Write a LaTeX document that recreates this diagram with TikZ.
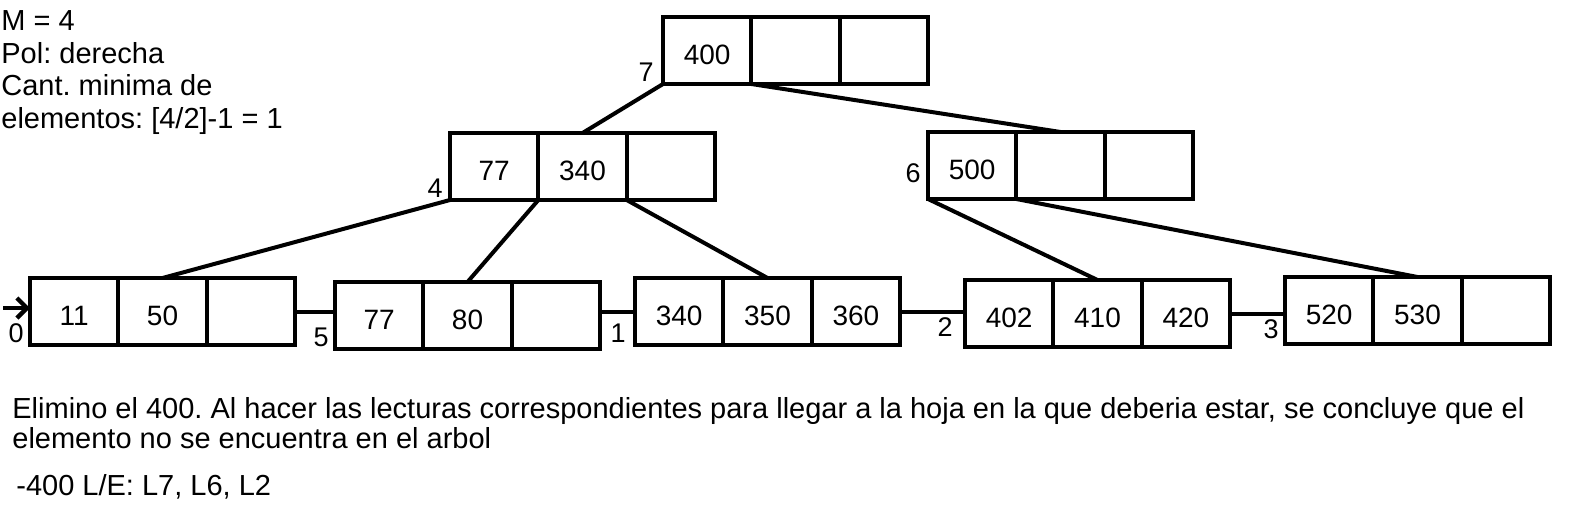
\documentclass[tikz,border=0pt]{standalone}
\usepackage{fontspec}
\setmainfont{Liberation Sans}
\usetikzlibrary{positioning,arrows.meta}
\begin{document}
\frenchspacing
\begin{tikzpicture}[x=0.5pt,y=-0.5pt,
  celda/.style={draw,line width=2pt,outer sep=0pt,inner sep=0pt,minimum width=44.17pt,minimum height=33.5pt,text height=14pt,font=\fontsize{14}{16}\selectfont},
  rama/.style={line width=2pt},
  etiq/.style={inner sep=1pt,anchor=south east,font=\fontsize{13.5}{16}\selectfont},
  texto/.style={inner sep=0pt,anchor=base west,font=\fontsize{14.5}{16.5}\selectfont}]
\useasboundingbox (0,0) rectangle (1572,530);
%datos
\node[texto] (m) at (1,30.7) {M = 4};
\node[texto] (pol) at (1,63.5) {Pol: derecha};
\node[texto] (cant) at (1,95.5) {Cant. minima de};
\node[texto] (elem) at (1,128) {elementos: [4/2]-1 = 1};
%nodos
\foreach \n/\x/\y/\a/\b/\c in {r/663/17/400/{}/{}, n4/450/133/77/340/{}, n6/928/132/500/{}/{},
  h0/30/278/11/50/{}, h5/335/282/77/80/{}, h1/635/278/340/350/360, h2/965/280/402/410/420, h3/1285/277/520/530/{}}{
  \node[celda,anchor=north west] (\n-1) at (\x,\y) {\a};
  \node[celda,right=0pt of \n-1] (\n-2) {\b};
  \node[celda,right=0pt of \n-2] (\n-3) {\c};
}
%ramas
\draw[rama] (r-1.south west) -- (n4-2.north);
\draw[rama] (r-2.south west) -- (n6-2.north);
\draw[rama] (n4-1.south west) -- (h0-2.north);
\draw[rama] (n4-2.south west) -- (h5-2.north);
\draw[rama] (n4-3.south west) -- (h1-2.north);
\draw[rama] (n6-1.south west) -- (h2-2.north);
\draw[rama] (n6-2.south west) -- (h3-2.north);
%hojas
\draw[rama] (h0-3.east) -- (h0-3.east -| h5-1.west);
\draw[rama] (h1-1.west -| h5-3.east) -- (h1-1.west);
\draw[rama] (h1-3.east) -- (h1-3.east -| h2-1.west);
\draw[rama] (h2-3.east) -- (h2-3.east -| h3-1.west);
\coordinate (ini) at (3,308);
\draw[line width=2.2pt,-{Straight Barb[length=5pt,width=10pt,line width=2.2pt]}] (ini) -- (ini -| h0-1.west);
%etiquetas
\node[etiq,xshift=-3.5pt] (l7) at (r-1.south west) {7};
\node[etiq,xshift=-2.5pt] (l4) at (n4-1.south west) {4};
\node[etiq,xshift=-2.5pt,yshift=7pt] (l6) at (n6-1.south west) {6};
\node[etiq,xshift=-2pt] (l0) at (h0-1.south west) {0};
\node[etiq,xshift=-2pt] (l5) at (h5-1.south west) {5};
\node[etiq,xshift=-3.5pt] (l1) at (h1-1.south west) {1};
\node[etiq,xshift=-5pt,yshift=4pt] (l2) at (h2-1.south west) {2};
\node[etiq,xshift=-2pt,yshift=1.5pt] (l3) at (h3-1.south west) {3};
%texto
\node[texto] (t1) at (12,418) {Elimino el 400. Al hacer las lecturas correspondientes para llegar a la hoja en la que deberia estar, se concluye que el};
\node[texto] (t2) at (12,448) {elemento no se encuentra en el arbol};
\node[texto] (t3) at (16,495) {-400 L/E: L7, L6, L2};
\end{tikzpicture}
\end{document}
